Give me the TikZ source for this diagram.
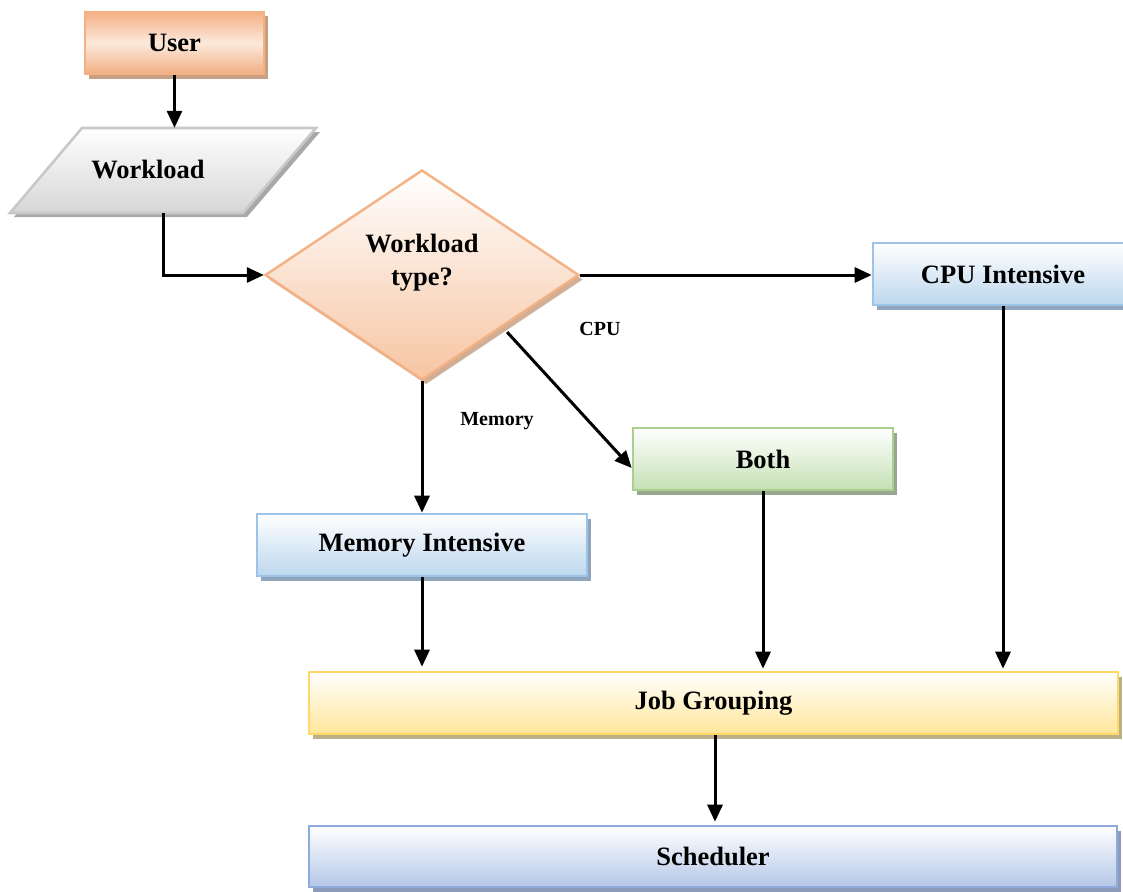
\documentclass[tikz,border=0pt]{standalone}
\usepackage{fontspec}
\setmainfont{Liberation Serif}
\usetikzlibrary{shapes.geometric,arrows.meta,shadows,calc}

\definecolor{orgLine}{HTML}{F4B183}
\definecolor{orgDark}{HTML}{F4B084}
\definecolor{orgLight}{HTML}{FCE9DC}
\definecolor{orgShadow}{HTML}{C9A084}
\definecolor{grayLine}{HTML}{C8C8C8}
\definecolor{grayDark}{HTML}{D6D6D6}
\definecolor{grayShadow}{HTML}{A8A8A8}
\definecolor{blueLine}{HTML}{9DC3E6}
\definecolor{blueDark}{HTML}{BDD7EE}
\definecolor{blueShadow}{HTML}{8FA5BC}
\definecolor{greenLine}{HTML}{A9D18E}
\definecolor{greenDark}{HTML}{C5E0B4}
\definecolor{greenShadow}{HTML}{99A690}
\definecolor{yelLine}{HTML}{FFD966}
\definecolor{yelDark}{HTML}{FFE699}
\definecolor{yelShadow}{HTML}{BFAF86}
\definecolor{lavLine}{HTML}{8FAADC}
\definecolor{lavDark}{HTML}{B4C7E7}
\definecolor{lavShadow}{HTML}{8C9BBA}

\begin{document}
\begin{tikzpicture}[x=1pt,y=-1pt,
  txt/.style={font=\bfseries\fontsize{26.5}{33}\selectfont, align=center, inner sep=0},
  small/.style={font=\bfseries\fontsize{20}{24}\selectfont, inner sep=0},
  box/.style={rectangle, inner sep=0, line width=2.6pt, txt,
    minimum height=62pt},
  boxlook/.style 2 args={general shadow={shadow xshift=3.5pt, shadow yshift=-4.5pt, fill=#2},
    draw=#1},
  orangebox/.style={boxlook={orgLine}{orgShadow}, top color=orgDark, bottom color=orgDark!95!black!20!orgDark, middle color=orgLight},
  bluebox/.style={boxlook={blueLine}{blueShadow}, top color=white, bottom color=blueDark},
  greenbox/.style={boxlook={greenLine}{greenShadow}, top color=white, bottom color=greenDark},
  yellowbox/.style={boxlook={yelLine}{yelShadow}, top color=white, bottom color=yelDark},
  lavbox/.style={boxlook={lavLine}{lavShadow}, top color=white, bottom color=lavDark},
  conn/.style={line width=3pt, -{Triangle[length=17pt,width=15pt]}}
]
\useasboundingbox (0,0) rectangle (1123,891);

% start node
\node[box, orangebox, minimum width=179pt] (user) at (174.5,43) {User};

% input parallelogram
\fill[grayShadow] (86,132) -- (320,132) -- (247,217) -- (14,217) -- cycle;
\path[top color=white, bottom color=grayDark, draw=grayLine, line width=2.6pt]
  (82,128) -- (316,128) -- (243,213) -- (10,213) -- cycle;
\node[rectangle, minimum width=233pt, minimum height=85pt, inner sep=0] (wlshape) at (163,170.5) {};
\node[txt] (wltext) at (148,170) {Workload};

% decision
\node[diamond, minimum width=314pt, minimum height=210pt, inner sep=0, line width=2.4pt,
  general shadow={shadow xshift=4pt, shadow yshift=-4.5pt, fill=orgShadow!85},
  draw=orgLine, top color=white, bottom color=orgLine!75] (dec) at (422,275) {};
\node[txt] (dectext) at (422,263) {Workload\\type?};

% categories
\node[box, bluebox, minimum width=260pt] (cpu) at (1003,274) {CPU Intensive};
\node[box, greenbox, minimum width=260pt] (both) at (763,459) {Both};
\node[box, bluebox, minimum width=330pt] (mem) at (422,545) {Memory Intensive};

% grouping and scheduling
\node[box, yellowbox, minimum width=809pt] (job) at (713.5,703) {Job Grouping};
\node[box, lavbox, minimum width=808pt, minimum height=61pt] (sched) at (713,856.5) {Scheduler};

% branch labels
\node[small] (lcpu) at (600,329) {CPU};
\node[small] (lmem) at (497,421) {Memory};

% connectors
\draw[conn] (user.south) -- (user.south |- wlshape.north);
\draw[conn] (wlshape.south) -- (wlshape.south |- dec.west) -- (dec.west);
\draw[conn] (dec.east) -- (dec.east -| cpu.west);
\draw[conn] ([xshift=6pt,yshift=-4pt]dec.south east) -- ($(both.west)+(0,9)$);
\draw[conn] (dec.south) -- (mem.north);
\draw[conn, shorten >=4pt] (mem.south) -- (mem.south |- job.north);
\draw[conn, shorten >=2pt] (both.south) -- (both.south |- job.north);
\draw[conn, shorten >=2pt] (cpu.south) -- (cpu.south |- job.north);
\draw[conn, shorten >=3pt] ([xshift=1.5pt]job.south) -- ([xshift=1.5pt]job.south |- sched.north);
\end{tikzpicture}
\end{document}
